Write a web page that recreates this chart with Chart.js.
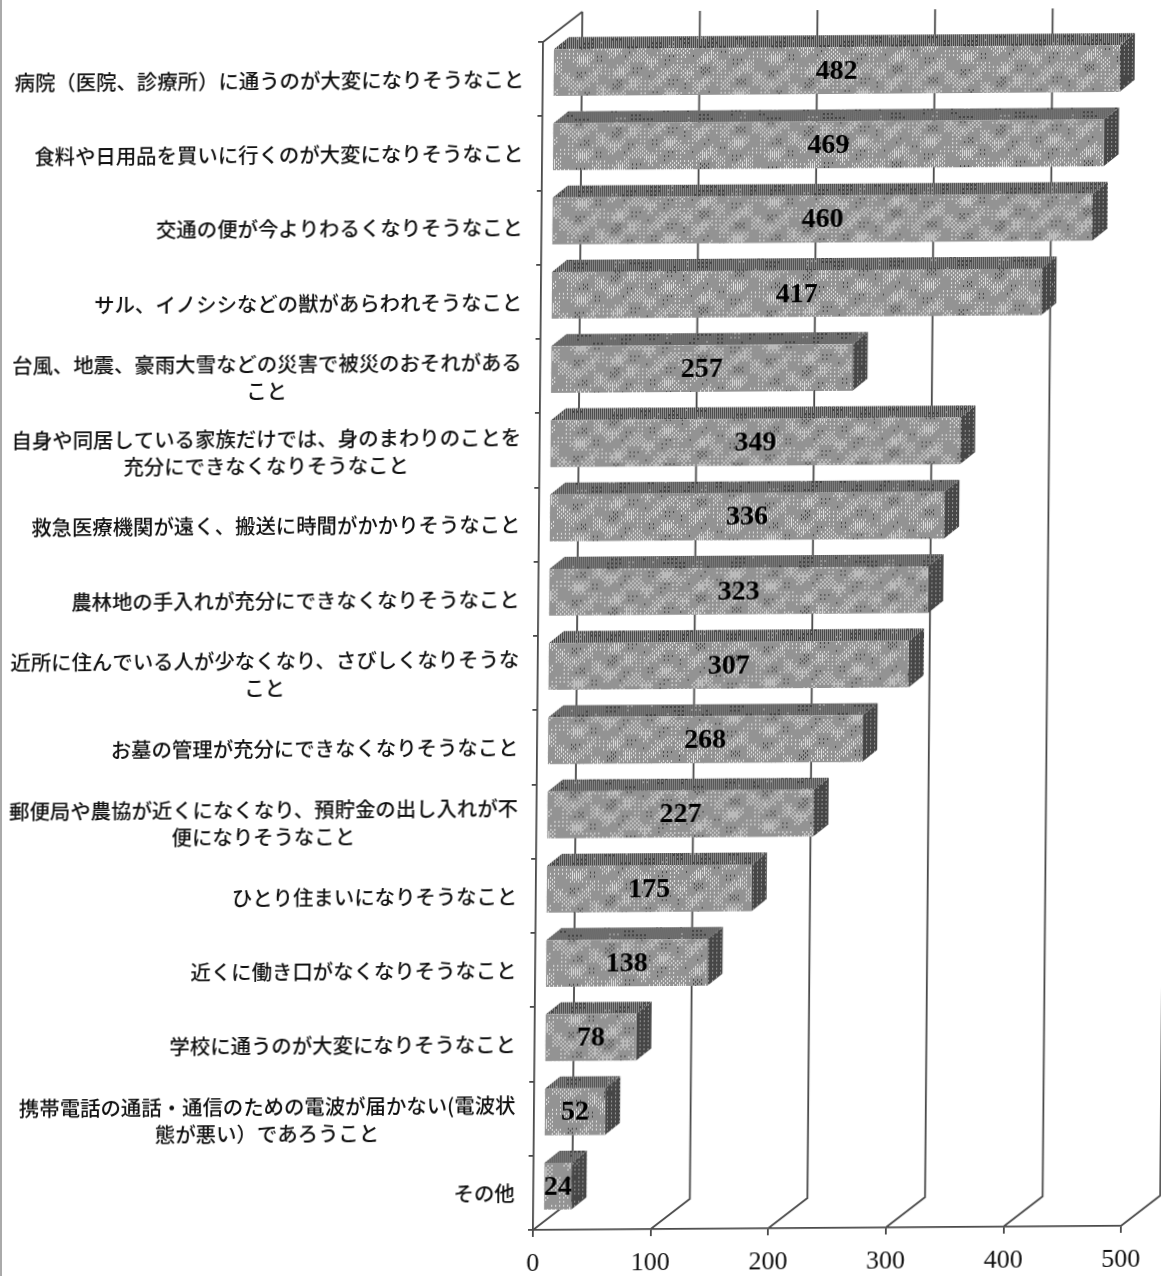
<!DOCTYPE html>
<html lang="ja">
<head>
<meta charset="utf-8">
<title>不安に思うこと</title>
<script src="https://cdn.jsdelivr.net/npm/chart.js@4/dist/chart.umd.min.js"></script>
<style>
  html, body { margin: 0; background: #fff; overflow: hidden; width: 1161px; height: 1276px; }
  /* the scanned page is slightly sheared, same skew for everything in the chart */
  #chart { position: absolute; left: 0; top: 0; transform-origin: 533px 1230px; transform: matrix(1, -0.007, -0.0085, 1, 0, 0); }
  #edge { position: absolute; left: 0; top: 0; width: 2px; height: 1276px; background: #aaa; }
</style>
</head>
<body>
<div id="edge"></div>
<canvas id="chart" width="1161" height="1276"></canvas>
<script>
const categories = [
  ['病院（医院、診療所）に通うのが大変になりそうなこと'],
  ['食料や日用品を買いに行くのが大変になりそうなこと'],
  ['交通の便が今よりわるくなりそうなこと'],
  ['サル、イノシシなどの獣があらわれそうなこと'],
  ['台風、地震、豪雨大雪などの災害で被災のおそれがある', 'こと'],
  ['自身や同居している家族だけでは、身のまわりのことを', '充分にできなくなりそうなこと'],
  ['救急医療機関が遠く、搬送に時間がかかりそうなこと'],
  ['農林地の手入れが充分にできなくなりそうなこと'],
  ['近所に住んでいる人が少なくなり、さびしくなりそうな', 'こと'],
  ['お墓の管理が充分にできなくなりそうなこと'],
  ['郵便局や農協が近くになくなり、預貯金の出し入れが不', '便になりそうなこと'],
  ['ひとり住まいになりそうなこと'],
  ['近くに働き口がなくなりそうなこと'],
  ['学校に通うのが大変になりそうなこと'],
  ['携帯電話の通話・通信のための電波が届かない(電波状', '態が悪い）であろうこと'],
  ['その他'],
]
const values = [482, 469, 460, 417, 257, 349, 336, 323, 307, 268, 227, 175, 138, 78, 52, 24]
const xTickValues = [0, 100, 200, 300, 400, 500]

const lineColor = '#4a4a4a'
const wallDx = 39, wallDy = 30 // floor depth, front axis to back wall
const barDx = 10, barDy = 6.5 // bars stand a bit behind the front axis
const depthDx = 15, depthDy = 12 // depth of one bar

const bayer = [
  [0, 8, 2, 10],
  [12, 4, 14, 6],
  [3, 11, 1, 9],
  [15, 7, 13, 5],
]

// halftone look of the printed bars
function texture(ctx, level, blotch) {
  const size = 192
  const tile = document.createElement('canvas')
  tile.width = tile.height = size
  const tctx = tile.getContext('2d')
  const img = tctx.createImageData(size, size)
  for (let y = 0; y < size; y++) {
    for (let x = 0; x < size; x++) {
      const wave = Math.sin(x * Math.PI / 32) * Math.sin(y * Math.PI / 12)
        + 0.6 * Math.sin((x + y) * Math.PI / 12)
        + 0.5 * Math.sin((3 * x - 2 * y) * Math.PI / 48)
      const l = level + blotch * wave
      const v = l > (bayer[y % 4][x % 4] + 0.5) / 16 ? 225 : 70
      const i = (y * size + x) * 4
      img.data[i] = img.data[i + 1] = img.data[i + 2] = v
      img.data[i + 3] = 255
    }
  }
  tctx.putImageData(img, 0, 0)
  return ctx.createPattern(tile, 'repeat')
}

const canvas = document.getElementById('chart')
const ctx = canvas.getContext('2d')
const frontFill = texture(ctx, 0.56, 0.1)
const topFill = texture(ctx, 0.24, 0.04)
const sideFill = texture(ctx, 0.06, 0.02)

const box3d = {
  id: 'box3d',
  beforeDatasetsDraw(chart) {
    const { ctx, chartArea, scales } = chart
    // floor lines and back wall
    ctx.save()
    ctx.strokeStyle = lineColor
    ctx.lineWidth = 1.8
    xTickValues.forEach((v) => {
      const x = scales.x.getPixelForValue(v)
      ctx.beginPath()
      ctx.moveTo(x, chartArea.bottom)
      ctx.lineTo(x + wallDx, chartArea.bottom - wallDy)
      ctx.lineTo(x + wallDx, chartArea.top - wallDy)
      ctx.stroke()
    })
    ctx.beginPath()
    ctx.moveTo(chartArea.left, chartArea.top)
    ctx.lineTo(chartArea.left + wallDx, chartArea.top - wallDy)
    ctx.stroke()
    ctx.restore()

    // top and side faces of each bar
    ctx.save()
    ctx.translate(barDx, -barDy)
    chart.getDatasetMeta(0).data.forEach((bar) => {
      const left = bar.base, right = bar.x
      const top = bar.y - bar.height / 2, bottom = bar.y + bar.height / 2
      ctx.fillStyle = topFill
      ctx.beginPath()
      ctx.moveTo(left, top)
      ctx.lineTo(left + depthDx, top - depthDy)
      ctx.lineTo(right + depthDx, top - depthDy)
      ctx.lineTo(right, top)
      ctx.closePath()
      ctx.fill()
      ctx.fillStyle = sideFill
      ctx.beginPath()
      ctx.moveTo(right, top)
      ctx.lineTo(right + depthDx, top - depthDy)
      ctx.lineTo(right + depthDx, bottom - depthDy)
      ctx.lineTo(right, bottom)
      ctx.closePath()
      ctx.fill()
    })
    // front faces are drawn by the library right after this hook
  },
  afterDatasetsDraw(chart) {
    const { ctx, scales } = chart
    const meta = chart.getDatasetMeta(0)
    ctx.restore()

    // value on each bar
    ctx.save()
    ctx.font = 'bold 28px "Liberation Serif"'
    ctx.fillStyle = '#000'
    ctx.textAlign = 'center'
    ctx.textBaseline = 'middle'
    meta.data.forEach((bar, i) => {
      ctx.fillText(values[i], (bar.base + bar.x) / 2 + barDx, bar.y - barDy + 1)
    })
    ctx.restore()

    // category labels: single lines flush right, wrapped ones centred in their block
    ctx.save()
    ctx.font = '500 20.4px "Noto Sans CJK JP"'
    ctx.fillStyle = '#111'
    ctx.textAlign = 'center'
    ctx.textBaseline = 'middle'
    const rightEdge = 514.5
    categories.forEach((lines, i) => {
      const y = scales.y.getPixelForTick(i)
      const w = Math.max(...lines.map((s) => ctx.measureText(s).width))
      lines.forEach((s, k) => {
        ctx.fillText(s, rightEdge - w / 2, y + (k - (lines.length - 1) / 2) * 27)
      })
    })
    ctx.restore()
  },
}

new Chart(ctx, {
  type: 'bar',
  data: {
    labels: categories.map((c) => c.join('')),
    datasets: [{
      data: values,
      backgroundColor: frontFill,
      borderWidth: 0,
      categoryPercentage: 1,
      barPercentage: 0.63,
      clip: false,
    }],
  },
  options: {
    indexAxis: 'y',
    responsive: false,
    animation: false,
    layout: { padding: { top: 42, right: 40, left: 0, bottom: 0 } },
    plugins: { legend: { display: false }, tooltip: { enabled: false } },
    scales: {
      x: {
        min: 0,
        max: 500,
        afterBuildTicks: (scale) => { scale.ticks = xTickValues.map((v) => ({ value: v })) },
        afterFit: (scale) => { scale.height = 46 },
        border: { color: lineColor, width: 1.8 },
        grid: { drawOnChartArea: false, color: lineColor, lineWidth: 1.8, tickLength: 7 },
        ticks: {
          color: '#111',
          padding: 12,
          maxRotation: 0,
          font: { family: '"Liberation Serif"', size: 26 },
        },
      },
      y: {
        afterFit: (scale) => { scale.width = 533 },
        border: { color: lineColor, width: 1.8 },
        grid: { drawOnChartArea: false, color: lineColor, lineWidth: 1.8, tickLength: 5 },
        ticks: { display: false },
      },
    },
  },
  plugins: [box3d],
})
</script>
</body>
</html>
